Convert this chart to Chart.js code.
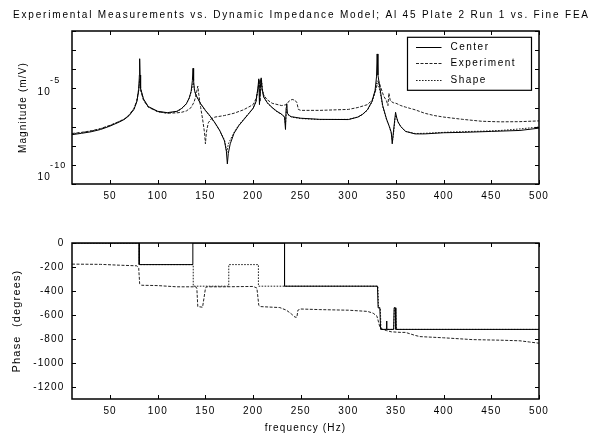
<!DOCTYPE html>
<html>
<head>
<meta charset="utf-8">
<style>
  html,body{margin:0;padding:0;background:#fff;}
  canvas{position:absolute;left:0;}
</style>
<script src="https://cdn.jsdelivr.net/npm/chart.js@4/dist/chart.umd.min.js"></script>
</head>
<body>
<canvas id="mag" width="595" height="215" style="top:0"></canvas>
<canvas id="phase" width="595" height="221" style="top:215px"></canvas>
<script>
// ---------------- data ----------------
const chartTitle = "Experimental Measurements vs. Dynamic Impedance Model; Al 45 Plate 2 Run 1 vs. Fine FEA";
const seriesNames = ["Center", "Experiment", "Shape"];
const xTickValues = [50, 100, 150, 200, 250, 300, 350, 400, 450, 500];
const magTickExps = [-10, -9, -8, -7, -6, -5, -4, -3, -2];
const magLabelExps = [-5, -10];
const phaseTickValues = [0, -200, -400, -600, -800, -1000, -1200];

// magnitude (log10 of m/V)
const centerMagF = [10,20,30,40,50,60,65,70,75,78,80,80.7,81,81.4,82,85,90,100,110,120,125,130,133,135,136.3,137,137.6,138.5,140,145,150,155,160,165,170,172,173,174,176,180,185,190,195,200,203,205,206,206.7,207.5,208.5,209.5,211,215,220,225,230,233,234,234.7,235.3,236,238,240,250,270,300,310,315,320,325,328,329.5,330.2,331,333,336,340,343,345,346,347,348.5,349.5,350.5,352,355,360,370,380,400,420,450,480,500];
const centerMagExp = [-7.42,-7.35,-7.27,-7.15,-6.97,-6.75,-6.62,-6.42,-6.1,-5.7,-5.1,-4.3,-3.45,-4.3,-5.0,-5.55,-5.95,-6.2,-6.27,-6.2,-6.05,-5.8,-5.5,-5.15,-4.6,-3.95,-4.6,-5.1,-5.35,-5.8,-6.15,-6.45,-6.8,-7.2,-7.75,-8.3,-8.95,-8.4,-7.9,-7.35,-6.95,-6.65,-6.35,-6.05,-5.7,-5.0,-4.5,-5.85,-5.0,-4.45,-5.0,-5.45,-5.75,-6.0,-6.2,-6.35,-6.5,-7.15,-6.0,-5.8,-6.3,-6.42,-6.48,-6.56,-6.62,-6.63,-6.5,-6.35,-6.12,-5.65,-5.1,-4.4,-3.2,-4.3,-4.95,-5.9,-6.6,-7.0,-7.3,-7.9,-7.4,-6.7,-6.25,-6.5,-6.75,-7.0,-7.25,-7.38,-7.38,-7.32,-7.3,-7.25,-7.2,-7.08];

const expMagF = [10,20,30,40,50,60,65,70,75,78,80,81,82,85,90,100,110,120,125,130,135,138,140,141.5,142,143,145,147,149,150,151,153,156,160,170,180,190,200,203,205,206.5,207.3,208,209,211,215,220,230,235,238,241,244,246,247.5,250,270,300,310,320,325,328,330,332,334,337,340,341.5,342.5,344,347,350,355,360,365,370,380,390,400,420,440,460,480,500];
const expMagExp = [-7.36,-7.3,-7.22,-7.1,-6.93,-6.72,-6.6,-6.38,-6.05,-5.65,-5.0,-4.55,-5.1,-5.62,-5.98,-6.22,-6.3,-6.28,-6.25,-6.18,-6.0,-5.72,-5.4,-5.0,-4.88,-5.3,-6.0,-6.6,-7.3,-7.9,-7.3,-6.8,-6.6,-6.5,-6.42,-6.3,-6.12,-5.85,-5.55,-5.1,-4.55,-5.7,-4.5,-5.0,-5.35,-5.6,-5.78,-5.9,-5.85,-5.65,-5.58,-5.62,-5.75,-6.1,-6.15,-6.15,-6.1,-6.0,-5.85,-5.6,-5.2,-4.85,-4.65,-4.95,-5.4,-5.65,-5.9,-5.25,-5.65,-5.75,-5.78,-5.9,-5.98,-6.05,-6.12,-6.3,-6.42,-6.5,-6.62,-6.72,-6.75,-6.74,-6.7];

const shapeMagF = [10,20,30,40,50,60,65,70,75,78,80,81,82,85,90,100,110,120,125,130,133,135,136.5,137.3,138.2,140,145,150,155,160,165,170,172.5,174,176,180,185,190,195,200,203,205,206.5,207.5,209,210,212,215,220,225,230,233,234,235,236,240,250,270,300,310,315,320,325,328,330,331,333,336,340,343,345,346.3,347.5,349,350,351,353,356,360,370,380,400,420,440,460,480,500];
const shapeMagExp = [-7.38,-7.31,-7.23,-7.12,-6.94,-6.72,-6.6,-6.4,-6.08,-5.68,-5.1,-4.5,-5.05,-5.58,-5.97,-6.22,-6.29,-6.22,-6.07,-5.82,-5.52,-5.2,-4.85,-4.7,-5.0,-5.35,-5.82,-6.17,-6.47,-6.82,-7.22,-7.7,-8.35,-7.9,-7.7,-7.3,-6.92,-6.62,-6.33,-6.03,-5.7,-5.1,-4.65,-5.3,-4.6,-5.1,-5.5,-5.78,-6.02,-6.22,-6.37,-6.5,-6.9,-6.1,-6.35,-6.5,-6.58,-6.63,-6.62,-6.5,-6.36,-6.14,-5.7,-5.2,-4.6,-4.75,-5.1,-5.95,-6.62,-7.0,-7.35,-7.75,-7.3,-6.55,-6.4,-6.6,-6.85,-7.05,-7.25,-7.36,-7.35,-7.3,-7.26,-7.24,-7.2,-7.12,-7.02];

// phase (degrees)
const centerPhaseF = [10,80.5,80.5,136.8,136.8,233,233,330.5,331.2,333,333.8,339.5,340,340.5,347.5,348,349.2,349.8,500];
const centerPhase  = [0,0,-180,-180,0,0,-360,-360,-540,-540,-720,-720,-650,-720,-720,-540,-540,-720,-720];

const expPhaseF = [10,40,60,78,80,81,83,100,120,140,141,142,147,150,151,170,200,204,206,208,220,228,235,240,244,246,247,250,270,300,320,326,330,333,336,340,345,355,360,370,375,400,430,460,480,490,500];
const expPhase  = [-176,-178,-185,-190,-210,-340,-352,-355,-365,-365,-380,-530,-535,-380,-365,-365,-362,-375,-520,-530,-535,-538,-560,-590,-618,-618,-560,-550,-555,-560,-570,-585,-610,-700,-720,-730,-740,-745,-745,-770,-780,-790,-805,-810,-815,-825,-835];

const shapePhaseF = [10,80.6,80.6,137.2,137.2,174.5,174.5,205.6,205.6,331,331.6,333.5,334.2,347.5,348.3,349.5,350.2,500];
const shapePhase  = [0,0,-180,-180,-360,-360,-180,-180,-360,-360,-540,-540,-720,-720,-540,-540,-720,-720];

// ---------------- helpers ----------------
const pts = (xs, ys, f) => xs.map((x, i) => ({x: x, y: f ? f(ys[i]) : ys[i]}));
const pow10 = e => Math.pow(10, e);
const FONT = "'Liberation Sans', Arial, Helvetica, sans-serif";
const SPACING = '1.15px';
Chart.defaults.font.family = FONT;
Chart.defaults.font.size = 10;
Chart.defaults.color = '#000';
Chart.defaults.animation = false;

const styles = [
  {borderColor: '#000', borderWidth: 1, borderDash: []},
  {borderColor: '#222', borderWidth: 1, borderDash: [3, 1.5]},
  {borderColor: '#222', borderWidth: 1, borderDash: [1.6, 1.4]}
];

const spacing = { id: 'spacing', beforeDraw(chart) { chart.ctx.letterSpacing = SPACING; } };

// title spread across the top, like the original figure
const wideTitle = { id: 'wideTitle', afterDraw(chart, args, opts) {
  const ctx = chart.ctx;
  ctx.save();
  ctx.font = "10px " + FONT;
  ctx.letterSpacing = '0px';
  const w0 = ctx.measureText(opts.text).width;
  const n = opts.text.length;
  const sp = Math.max(0, (opts.width - w0) / n);
  ctx.letterSpacing = sp.toFixed(2) + 'px';
  ctx.fillStyle = '#000';
  ctx.textAlign = 'left';
  ctx.textBaseline = 'middle';
  ctx.fillText(opts.text, opts.cx - opts.width / 2, opts.y);
  ctx.restore();
}};

const frame = { id: 'frame', afterDraw(chart) {
  const {ctx, chartArea: a, scales} = chart;
  const xs = scales.x, ys = scales.y;
  ctx.save();
  ctx.strokeStyle = '#000';
  ctx.lineWidth = 1;
  ctx.beginPath();
  xs.ticks.forEach(t => {
    const p = Math.round(xs.getPixelForValue(t.value)) + 0.5;
    ctx.moveTo(p, a.top); ctx.lineTo(p, a.top + 4);
    ctx.moveTo(p, a.bottom); ctx.lineTo(p, a.bottom - 4);
  });
  ys.ticks.forEach(t => {
    const p = Math.round(ys.getPixelForValue(t.value)) + 0.5;
    ctx.moveTo(a.left, p); ctx.lineTo(a.left + 4, p);
    ctx.moveTo(a.right, p); ctx.lineTo(a.right - 4, p);
  });
  ctx.stroke();
  ctx.lineWidth = 1.5;
  ctx.strokeRect(a.left, a.top, a.right - a.left, a.bottom - a.top);
  ctx.restore();
}};

const magLabels = { id: 'magLabels', afterDraw(chart) {
  const {ctx, chartArea: a, scales} = chart;
  const ys = scales.y;
  ctx.save();
  ctx.letterSpacing = SPACING;
  ctx.fillStyle = '#000';
  ctx.textBaseline = 'middle';
  magLabelExps.forEach(e => {
    const p = ys.getPixelForValue(pow10(e));
    const yc = Math.min(p + 3.5, a.bottom - 7);
    ctx.font = "10px " + FONT;
    ctx.textAlign = 'right';
    ctx.fillText('10', a.left - 21, yc);
    ctx.font = "9px " + FONT;
    ctx.textAlign = 'left';
    ctx.fillText(String(e), a.left - 22, yc - 11);
  });
  ctx.restore();
}};

const boxLegend = { id: 'boxLegend', afterDraw(chart) {
  const {ctx, chartArea: a} = chart;
  const left = a.right - 131.5, top = a.top + 6.3, w = 124, h = 53;
  ctx.save();
  ctx.fillStyle = '#fff';
  ctx.fillRect(left, top, w, h);
  ctx.strokeStyle = '#000';
  ctx.lineWidth = 1.2;
  ctx.strokeRect(left, top, w, h);
  ctx.letterSpacing = '1.5px';
  ctx.font = "10px " + FONT;
  ctx.textBaseline = 'middle';
  ctx.textAlign = 'left';
  chart.data.datasets.forEach((ds, i) => {
    const y = Math.round(top + 9.4 + i * 16.6) + 0.5;
    ctx.beginPath();
    ctx.setLineDash(ds.borderDash || []);
    ctx.strokeStyle = ds.borderColor;
    ctx.lineWidth = 1;
    ctx.moveTo(left + 8.5, y); ctx.lineTo(left + 34, y);
    ctx.stroke();
    ctx.setLineDash([]);
    ctx.fillStyle = '#000';
    ctx.fillText(ds.label, left + 43, y);
  });
  ctx.restore();
}};

const xScaleBase = (h, title) => ({
  type: 'linear', position: 'bottom', min: 10, max: 500,
  grid: {display: false, drawTicks: false}, border: {display: false},
  ticks: {padding: 6, font: {size: 10}, color: '#000', maxRotation: 0, autoSkip: false, callback: v => String(v)},
  afterBuildTicks: s => { s.ticks = xTickValues.map(v => ({value: v})); },
  afterFit: s => { s.height = h; },
  title: title ? {display: true, text: title, font: {size: 10}, color: '#000', padding: {top: 0, bottom: 2}} : {display: false}
});

// ---------------- magnitude chart ----------------
new Chart(document.getElementById('mag'), {
  type: 'line',
  data: {
    datasets: [
      Object.assign({label: seriesNames[0], data: pts(centerMagF, centerMagExp, pow10)}, styles[0]),
      Object.assign({label: seriesNames[1], data: pts(expMagF, expMagExp, pow10)}, styles[1]),
      Object.assign({label: seriesNames[2], data: pts(shapeMagF, shapeMagExp, pow10)}, styles[2])
    ]
  },
  options: {
    responsive: false,
    devicePixelRatio: 1,
    elements: {point: {radius: 0}, line: {tension: 0}},
    layout: {padding: {top: 31, right: 56, bottom: 0, left: 0}},
    plugins: {
      legend: {display: false},
      tooltip: {enabled: false},
      title: {display: false},
      wideTitle: {text: chartTitle, cx: 301.5, y: 15, width: 577}
    },
    scales: {
      x: xScaleBase(31, null),
      y: {
        type: 'logarithmic', min: 1e-10, max: 1e-2,
        grid: {display: false, drawTicks: false}, border: {display: false},
        ticks: {display: false},
        afterBuildTicks: s => { s.ticks = magTickExps.map(e => ({value: pow10(e)})); },
        afterFit: s => { s.width = 72; },
        title: {display: true, text: 'Magnitude (m/V)', color: '#000', font: {size: 10}, padding: {top: 17, bottom: 0}}
      }
    }
  },
  plugins: [spacing, frame, magLabels, boxLegend, wideTitle]
});

// ---------------- phase chart ----------------
new Chart(document.getElementById('phase'), {
  type: 'line',
  data: {
    datasets: [
      Object.assign({label: seriesNames[0], data: pts(centerPhaseF, centerPhase)}, styles[0]),
      Object.assign({label: seriesNames[1], data: pts(expPhaseF, expPhase)}, styles[1]),
      Object.assign({label: seriesNames[2], data: pts(shapePhaseF, shapePhase)}, styles[2])
    ]
  },
  options: {
    responsive: false,
    devicePixelRatio: 1,
    elements: {point: {radius: 0}, line: {tension: 0}},
    layout: {padding: {top: 28, right: 56, bottom: 0, left: 0}},
    plugins: {legend: {display: false}, tooltip: {enabled: false}, title: {display: false}},
    scales: {
      x: xScaleBase(37, 'frequency (Hz)'),
      y: {
        type: 'linear', min: -1300, max: 0,
        grid: {display: false, drawTicks: false}, border: {display: false},
        ticks: {padding: 7.5, font: {size: 10}, color: '#000', autoSkip: false, callback: v => String(v)},
        afterBuildTicks: s => { s.ticks = phaseTickValues.map(v => ({value: v})); },
        afterFit: s => { s.width = 72; },
        title: {display: true, text: 'Phase  (degrees)', color: '#000', font: {size: 11}, padding: {top: 10, bottom: 0}}
      }
    }
  },
  plugins: [spacing, frame]
});
</script>
</body>
</html>
